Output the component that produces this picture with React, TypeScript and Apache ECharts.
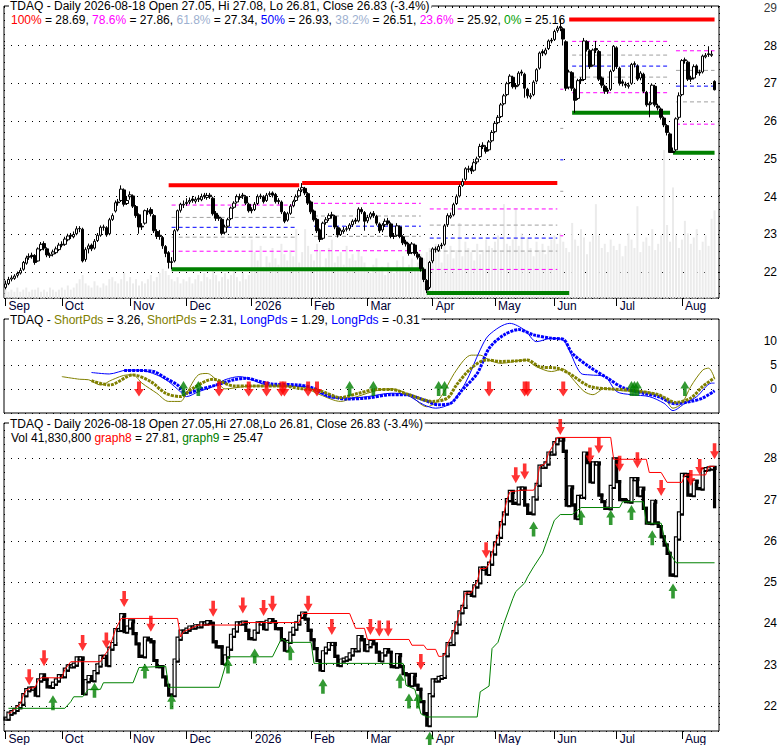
import React, { useEffect, useRef } from 'react';
import * as echarts from 'echarts';

const FONT = '"Liberation Sans", Arial, sans-serif';

const monthNames = ['Sep', 'Oct', 'Nov', 'Dec', '2026', 'Feb', 'Mar', 'Apr', 'May', 'Jun', 'Jul', 'Aug'];
const monthDays = [19, 23, 19, 22, 20, 19, 22, 21, 20, 21, 22, 12];

const topTicks = [22, 23, 24, 25, 26, 27, 28];
const topEdgeTick = 29;
const midTicks = [0, 5, 10];
const botTicks = [22, 23, 24, 25, 26, 27, 28];

const opens = [
  21.60,21.70,21.82,21.84,21.92,21.98,22.08,22.24,22.40,22.45,
  22.44,22.30,22.60,22.76,22.62,22.44,22.48,22.52,22.60,22.74,
  22.74,22.86,22.98,22.94,23.02,23.16,23.14,22.34,22.62,22.72,
  22.64,22.84,22.98,23.20,23.18,23.02,23.40,23.62,23.86,23.90,
  24.18,23.82,24.00,24.02,23.74,23.52,23.22,23.30,23.62,23.66,
  23.50,23.08,22.98,22.92,22.68,22.52,22.28,22.30,23.12,23.64,
  23.78,23.82,23.86,23.94,23.88,23.96,23.92,24.04,23.98,24.04,
  23.96,23.56,23.46,23.40,23.06,23.22,23.42,23.72,23.86,23.98,
  24.04,24.00,23.80,23.66,23.66,23.82,24.02,24.00,23.90,24.06,
  24.10,24.06,23.90,23.86,23.58,23.38,23.56,23.76,23.90,24.02,
  24.18,24.22,24.08,23.86,23.62,23.40,23.12,22.90,23.32,23.42,
  23.52,23.48,23.18,23.00,23.08,23.14,23.16,23.26,23.38,23.36,
  23.66,23.58,23.36,23.46,23.56,23.48,23.28,23.12,23.26,23.36,
  23.28,22.96,22.98,23.20,22.94,22.80,22.74,22.52,22.72,22.48,
  22.38,22.08,21.78,21.60,22.30,22.60,22.58,22.72,22.74,23.26,
  23.46,23.52,23.82,24.02,24.30,24.46,24.72,24.76,24.70,24.92,
  25.06,25.36,25.30,25.24,25.48,25.72,25.96,26.12,26.46,26.70,
  27.02,27.16,26.94,26.96,27.30,27.24,26.84,26.64,26.70,27.06,
  27.40,27.84,27.78,27.92,28.14,28.16,28.40,28.50,28.44,28.10,
  26.90,27.28,26.84,26.60,27.10,27.10,28.10,27.86,27.48,27.92,
  27.84,27.14,26.92,26.82,26.84,27.34,27.94,27.40,27.04,26.98,
  26.92,27.00,27.52,27.46,27.14,27.24,26.76,26.46,26.48,26.92,
  26.40,26.32,26.08,25.88,25.66,25.20,25.24,26.10,26.70,27.62,
  27.56,27.14,27.14,27.46,27.30,27.30,27.70,27.78,27.74,27.05,
];
const highs = [
  21.78,21.88,21.92,21.95,22.02,22.12,22.30,22.44,22.50,22.52,
  22.48,22.66,22.80,22.82,22.66,22.52,22.60,22.68,22.78,22.82,
  22.94,23.02,23.04,23.08,23.22,23.22,23.18,22.66,22.76,22.76,
  22.88,23.04,23.24,23.26,23.22,23.44,23.56,23.90,23.94,24.30,
  24.22,24.02,24.14,24.06,23.78,23.56,23.30,23.66,23.70,23.72,
  23.54,23.14,23.12,22.96,22.72,22.56,22.40,23.14,23.66,23.84,
  23.90,23.96,23.98,24.02,24.00,24.04,24.08,24.10,24.10,24.10,
  24.00,23.62,23.52,23.44,23.26,23.44,23.74,23.88,24.06,24.08,
  24.10,24.04,23.84,23.72,23.86,24.06,24.08,24.04,24.10,24.14,
  24.14,24.10,23.96,23.90,23.62,23.60,23.80,23.92,24.06,24.22,
  24.36,24.26,24.12,23.90,23.66,23.44,23.16,23.34,23.46,23.56,
  23.60,23.52,23.22,23.16,23.20,23.22,23.30,23.40,23.44,23.72,
  23.72,23.62,23.52,23.60,23.62,23.52,23.32,23.30,23.42,23.44,
  23.32,23.04,23.30,23.24,22.98,22.86,22.78,22.80,22.76,22.54,
  22.42,22.12,21.82,22.30,22.66,22.68,22.74,22.78,23.28,23.56,
  23.58,23.84,24.06,24.32,24.48,24.78,24.82,24.82,24.96,25.06,
  25.40,25.44,25.36,25.50,25.76,25.98,26.16,26.48,26.72,27.04,
  27.24,27.20,27.00,27.32,27.36,27.28,26.88,26.74,27.08,27.40,
  27.84,27.90,27.94,28.16,28.20,28.42,28.52,28.69,28.48,28.14,
  27.36,27.32,26.88,27.12,27.16,28.20,28.14,27.90,27.92,28.12,
  27.88,27.18,26.96,26.88,27.36,28.00,27.98,27.44,27.10,27.04,
  27.02,27.54,27.58,27.50,27.32,27.28,26.80,26.52,27.00,26.96,
  26.46,26.36,26.12,25.92,25.70,25.30,26.10,26.76,27.64,27.68,
  27.60,27.20,27.50,27.50,27.36,27.76,27.80,27.98,27.86,27.08,
];
const lows = [
  21.55,21.66,21.76,21.80,21.86,21.94,22.04,22.20,22.33,22.36,
  22.20,22.28,22.56,22.58,22.40,22.38,22.42,22.48,22.56,22.66,
  22.70,22.82,22.88,22.90,22.98,23.06,22.26,22.28,22.50,22.56,
  22.60,22.80,22.94,23.10,22.94,22.98,23.36,23.58,23.76,23.86,
  23.74,23.78,23.92,23.70,23.44,23.02,23.12,23.26,23.52,23.48,
  23.04,22.88,22.86,22.62,22.40,22.10,22.08,22.26,23.08,23.58,
  23.70,23.76,23.80,23.84,23.82,23.86,23.88,23.94,23.92,23.94,
  23.50,23.36,23.36,22.98,23.00,23.18,23.38,23.68,23.82,23.92,
  23.94,23.78,23.58,23.56,23.62,23.78,23.94,23.82,23.86,24.00,
  23.98,23.82,23.80,23.54,23.30,23.34,23.52,23.72,23.86,23.98,
  24.12,24.04,23.78,23.54,23.34,23.04,22.80,22.86,23.26,23.36,
  23.42,23.14,22.92,22.96,23.02,23.08,23.10,23.20,23.28,23.32,
  23.54,23.10,23.30,23.40,23.44,23.24,23.04,23.06,23.20,23.24,
  22.90,22.88,22.94,22.90,22.72,22.68,22.44,22.48,22.44,22.34,
  22.02,21.74,21.45,21.56,22.24,22.52,22.54,22.62,22.70,23.20,
  23.42,23.48,23.78,23.98,24.26,24.42,24.64,24.60,24.66,24.86,
  25.02,25.26,25.14,25.20,25.44,25.68,25.92,26.08,26.42,26.66,
  26.98,26.86,26.84,26.92,27.20,26.62,26.60,26.58,26.66,27.02,
  27.36,27.72,27.74,27.88,28.06,28.12,28.34,28.38,28.00,26.80,
  26.84,26.80,26.22,26.56,26.98,27.06,27.84,27.38,27.44,27.80,
  27.06,26.88,26.72,26.72,26.80,27.30,27.38,26.94,26.92,26.88,
  26.86,26.96,27.42,27.06,27.08,26.74,26.38,26.10,26.44,26.38,
  26.28,26.04,25.84,25.62,25.16,25.16,25.20,26.04,26.66,27.52,
  27.06,27.04,27.10,27.22,27.20,27.26,27.66,27.70,27.70,26.81,
];
const closes = [
  21.69,21.81,21.85,21.90,21.97,22.05,22.26,22.38,22.42,22.42,
  22.26,22.62,22.74,22.64,22.46,22.46,22.54,22.62,22.72,22.72,
  22.88,22.96,22.96,23.00,23.15,23.15,22.30,22.60,22.70,22.62,
  22.82,22.98,23.19,23.19,22.99,23.39,23.50,23.84,23.84,24.20,
  23.80,23.90,24.05,23.75,23.50,23.20,23.20,23.63,23.60,23.55,
  23.10,22.95,22.95,22.70,22.50,22.26,22.26,23.10,23.63,23.80,
  23.80,23.85,23.90,23.90,23.93,23.93,24.00,24.00,24.03,24.00,
  23.55,23.43,23.43,23.03,23.20,23.39,23.70,23.83,24.00,24.00,
  24.02,23.83,23.63,23.63,23.80,24.00,24.00,23.87,24.04,24.08,
  24.04,23.87,23.87,23.60,23.35,23.55,23.75,23.87,24.00,24.16,
  24.24,24.10,23.83,23.60,23.39,23.10,22.87,23.30,23.39,23.50,
  23.50,23.20,22.99,23.10,23.12,23.15,23.25,23.35,23.35,23.67,
  23.60,23.35,23.45,23.55,23.50,23.30,23.10,23.25,23.35,23.30,
  22.95,22.95,23.23,22.95,22.78,22.75,22.50,22.75,22.50,22.40,
  22.10,21.81,21.53,22.26,22.62,22.62,22.68,22.70,23.23,23.50,
  23.50,23.79,24.00,24.27,24.40,24.74,24.74,24.68,24.90,25.00,
  25.33,25.33,25.20,25.45,25.70,25.94,26.10,26.43,26.67,26.99,
  27.19,26.91,26.91,27.27,27.27,26.87,26.67,26.67,27.03,27.36,
  27.80,27.80,27.88,28.12,28.12,28.37,28.46,28.46,28.17,26.87,
  27.30,26.87,26.55,27.07,27.07,28.12,27.90,27.44,27.88,27.88,
  27.11,26.95,26.79,26.79,27.31,27.98,27.44,27.00,27.00,26.95,
  26.95,27.50,27.50,27.11,27.27,26.79,26.43,26.43,26.95,26.43,
  26.35,26.10,25.90,25.70,25.17,25.17,26.06,26.67,27.60,27.60,
  27.11,27.11,27.44,27.27,27.27,27.72,27.74,27.76,27.77,26.83,
];
// volume in millions of shares
const volumes = [
  6,3,4,3,5,3,4,5,3,4,
  4,5,3,4,3,5,4,3,4,5,
  4,6,4,5,7,9,11,7,6,5,
  8,6,5,7,6,9,10,8,7,9,
  12,8,10,7,9,6,8,7,9,11,
  8,10,12,14,13,11,9,8,10,7,
  9,8,10,7,9,11,8,12,10,9,
  13,11,8,10,12,9,11,14,10,8,
  12,9,11,28,22,18,25,15,20,17,
  24,19,16,26,21,18,23,20,33,17,
  22,33,25,21,18,26,23,15,19,24,
  28,17,20,22,16,25,19,21,18,23,
  20,17,14,12,16,19,13,15,11,17,
  14,12,18,15,20,13,16,19,14,17,
  21,19,22,24,18,26,22,17,29,21,
  25,19,23,36,20,27,24,22,18,26,
  21,23,28,25,24,27,30,22,45,26,
  25,28,43,25,31,22,29,24,20,27,
  23,26,21,25,28,30,26,31,27,24,
  22,36,28,25,33,29,21,27,30,45,
  30,24,26,22,28,25,23,26,20,25,
  31,28,24,44,22,27,29,25,33,23,
  26,30,71,35,27,53,30,24,28,37,
  31,26,29,33,23,27,30,25,38,42,
];

// Fibonacci retracement spans: [fromIndex, toIndex, value]
const fibHighs = [
  [55, 99, 24.3],
  [100, 186, 24.36],
  [190, 239, 28.69],
];
const fibLows = [
  [56, 141, 22.08],
  [142, 190, 21.45],
  [191, 224, 26.22],
  [225, 239, 25.16],
];
// [fromIndex, toIndex, high, low]
const fibRanges = [
  [56, 98, 24.3, 22.08],
  [104, 140, 24.36, 22.08],
  [143, 186, 24.36, 21.45],
  [187, 188, 28.5, 21.45],
  [191, 223, 28.69, 26.22],
  [226, 239, 28.69, 25.16],
];
const fibRatios = [0.765, 0.618, 0.5, 0.382, 0.215];

// middle panel indicator lines: [dayIndex, value]
const shortThin = [[19,2.55],[25,2.0],[28,1.9],[32,0.8],[36,1.9],[41,2.9],[43,2.9],[46,1.2],[51,-0.9],[55,-2.6],[59,-2.6],[61,-0.9],[65,2.9],[68,3.2],[71,1.9],[74,0],[81,0.5],[88,0.6],[95,0.5],[99,0.5],[106,-1.2],[113,-2.6],[117,-1.9],[122,-0.9],[126,-0.2],[130,0],[136,-1.2],[142,-3.7],[146,-2.3],[152,3.9],[157,7.0],[160,7.0],[163,6.0],[167,5.3],[175,6.0],[179,4.6],[184,3.6],[188,4.1],[191,2.2],[195,-0.5],[198,-1.2],[202,0.1],[208,-0.4],[215,-0.5],[222,-1.9],[225,-4.0],[228,-3.0],[231,0.5],[235,3.9],[237,4.3],[239,2.2]];
const shortThick = [[29,1.7],[35,0.8],[43,2.9],[49,1.5],[54,-0.9],[59,-1.6],[63,0.1],[70,2.0],[77,0.6],[83,0.6],[94,0.6],[99,0.1],[106,-0.4],[113,-1.8],[119,-0.9],[124,-0.2],[130,-0.1],[136,-1.2],[144,-2.6],[149,-1.9],[152,0.8],[157,4.3],[162,6.0],[167,5.7],[172,5.8],[176,6.0],[180,4.6],[186,4.3],[190,3.2],[197,0.5],[204,0],[211,-0.3],[220,-1.2],[226,-2.8],[231,-1.9],[235,0.5],[239,2.3]];
const longThin = [[29,3.4],[35,3.1],[41,3.9],[45,3.9],[51,2.9],[55,1.5],[59,-0.6],[61,-1.6],[65,-0.6],[70,0.5],[74,1.9],[79,2.55],[83,1.9],[88,0.8],[95,0.6],[101,0.5],[106,-0.9],[110,-1.9],[116,-1.9],[122,-1.6],[130,-0.9],[135,-1.2],[141,-3.3],[145,-4.0],[150,-3.0],[155,1.2],[160,8.1],[163,11.2],[170,13.6],[175,12.2],[179,9.8],[184,10.5],[188,10.1],[194,3.2],[197,2.9],[202,2.55],[206,-0.55],[211,-1.2],[217,-1.6],[222,-3.0],[225,-4.5],[229,-3.0],[233,-1.6],[238,1.2],[239,1.2]];
const longThick = [[40,3.8],[45,3.8],[50,3.6],[54,2.2],[58,0.8],[61,-0.9],[65,-0.2],[71,0.8],[77,1.9],[81,2.2],[86,1.5],[90,1.0],[99,0.8],[104,0.1],[108,-1.2],[115,-2.1],[122,-1.9],[130,-1.2],[135,-1.2],[141,-2.3],[146,-3.3],[150,-3.0],[154,-0.2],[159,3.2],[163,8.4],[168,11.2],[173,12.3],[178,11.2],[184,10.5],[188,10.3],[191,7.4],[197,4.5],[203,2.2],[208,0.3],[215,-0.9],[220,-1.6],[226,-3.1],[231,-2.6],[235,-1.9],[239,-0.4]];

// middle panel signal days
const midDownDays = [45, 72, 82, 88, 93, 94, 102, 105, 163, 175, 176, 188];
const midUpDays = [60, 65, 116, 124, 146, 148, 211, 212, 213, 229];
const midDownTip = -1.6;
const midUpTip = 1.65;

// bottom panel stops: [dayIndex, value]
const graph8 = [[1,21.81],[2,21.85],[5,22.05],[6,22.26],[7,22.38],[8,22.42],[10,22.45],[11,22.62],[12,22.68],[19,22.68],[20,22.88],[22,23.07],[32,23.07],[33,23.19],[35,23.39],[37,23.84],[39,24.12],[58,24.12],[59,23.67],[60,23.8],[65,23.96],[79,23.96],[80,24.02],[99,24.02],[100,24.24],[116,24.24],[118,23.88],[121,23.88],[122,23.61],[136,23.61],[137,23.47],[141,23.47],[142,23.37],[145,23.37],[146,23.2],[147,23.2],[148,23.23],[149,23.5],[151,23.79],[152,24.0],[153,24.27],[154,24.4],[155,24.74],[157,24.74],[158,24.9],[159,25.0],[160,25.33],[162,25.33],[163,25.45],[164,25.7],[165,25.94],[166,26.1],[167,26.43],[168,26.67],[169,26.99],[170,27.19],[174,27.23],[178,27.23],[179,27.36],[180,27.8],[182,27.88],[183,28.12],[185,28.37],[186,28.51],[204,28.51],[205,27.98],[216,27.98],[217,27.66],[221,27.66],[223,27.42],[228,27.42],[229,27.6],[236,27.6],[237,27.81],[239,27.81]];
const graph9 = [[1,21.94],[20,21.94],[22,22.1],[23,22.22],[26,22.22],[28,22.4],[32,22.4],[33,22.56],[43,22.56],[45,22.93],[54,22.96],[55,22.45],[72,22.45],[75,23.19],[90,23.19],[93,23.63],[95,23.54],[103,23.54],[104,23.03],[134,23.03],[135,22.5],[138,22.4],[140,21.81],[142,21.73],[159,21.73],[160,22.34],[163,22.48],[164,23.39],[166,23.54],[168,24.0],[171,24.6],[172,24.77],[175,24.98],[176,25.13],[178,25.37],[181,25.7],[183,26.1],[185,26.5],[187,26.64],[191,26.64],[194,26.81],[207,26.81],[208,26.95],[215,26.95],[216,26.43],[221,26.43],[222,26.1],[223,25.9],[224,25.7],[226,25.47],[239,25.47]];
const botDown = [[8,22.5],[13,22.96],[26,23.33],[34,23.39],[40,24.4],[49,23.8],[70,24.16],[80,24.24],[87,24.18],[90,24.28],[102,24.28],[110,23.72],[123,23.72],[126,23.68],[129,23.68],[140,22.87],[162,25.58],[172,27.4],[175,27.49],[187,28.57],[197,27.88],[200,28.12],[207,27.68],[213,27.76],[221,27.09],[231,27.33],[234,27.6],[239,27.98]];
const botUp = [[16,22.26],[30,22.56],[47,23.03],[56,22.28],[75,23.15],[84,23.39],[96,23.47],[107,22.66],[133,22.79],[136,22.3],[139,22.3],[143,21.37],[178,26.47],[194,26.75],[204,26.75],[211,26.87],[218,26.26],[225,24.97]];

const DOWN_ARROW = 'path://M3,0L7,0L7,8L10,8L5,16L0,8L3,8Z';
const UP_ARROW = 'path://M5,0L10,8L7,8L7,16L3,16L3,8L0,8Z';

function buildOption() {
  const categories: string[] = [];
  const monthStart = new Set<number>();
  monthNames.forEach((m, k) => {
    monthStart.add(categories.length);
    for (let d = 1; d <= monthDays[k]; d++) categories.push(m + ' ' + d);
  });
  const janIndex = categories.indexOf('2026 1');
  const spareIndex = categories.length;
  categories.push(' ');
  const isStart = (i: number) => monthStart.has(i);

  const dotted = { type: [1, 6] as any, color: '#000', width: 1 };

  const mkX = (gi: number, labels: boolean) => ({
    type: 'category',
    gridIndex: gi,
    data: categories,
    boundaryGap: true,
    axisLine: { show: false },
    axisTick: { show: labels, interval: isStart, length: 8, alignWithLabel: true, lineStyle: { color: '#000', width: 1 } },
    axisLabel: {
      show: labels,
      interval: isStart,
      formatter: (v: string) => v.split(' ')[0],
      align: 'left',
      padding: [0, 0, 0, 3],
      margin: 2,
      color: '#000033',
      fontSize: 12,
      fontFamily: FONT,
    },
    splitLine: { show: gi !== 1, interval: (i: number) => i === janIndex, lineStyle: dotted },
  });

  const yLabel = (values: number[]) => ({
    customValues: values,
    margin: 58,
    align: 'right',
    formatter: (v: number) => String(Math.round(v)),
    color: '#000',
    fontSize: 12,
    fontFamily: FONT,
    showMinLabel: true,
    showMaxLabel: true,
    hideOverlap: false,
  });

  const series: any[] = [];

  // volume
  series.push({
    type: 'bar', xAxisIndex: 0, yAxisIndex: 1, data: volumes, barWidth: 2, silent: true, z: 1,
    itemStyle: { color: '#ebebeb' },
  });

  // fib lines
  const seg = (a: number, b: number, v: number, color: string, width: number, dashed: boolean) => ({
    type: 'line', xAxisIndex: 0, yAxisIndex: 0, z: 2, silent: true, symbol: 'none',
    data: [[a, v], [b, v]],
    lineStyle: { color, width, type: dashed ? [4, 3] : 'solid' },
  });
  const fibColors = ['#ff00ff', '#a0a0a0', '#0000ff', '#a0a0a0', '#ff00ff'];
  fibRanges.forEach(([a, b, hi, lo]) => {
    fibRatios.forEach((r, k) => series.push(seg(a, b, lo + (hi - lo) * r, fibColors[k], 1, true)));
  });
  fibHighs.forEach(([a, b, v]) => series.push(seg(a, b, v, '#ff0000', 4, false)));
  fibLows.forEach(([a, b, v]) => series.push(seg(a, b, v, '#008000', 4, false)));

  // candles
  series.push({
    type: 'candlestick', xAxisIndex: 0, yAxisIndex: 0, z: 3, barWidth: 3,
    data: closes.map((c, i) => [opens[i], c, lows[i], highs[i]]),
    itemStyle: { color: '#ffffff', color0: '#000000', borderColor: '#000000', borderColor0: '#000000', borderWidth: 1 },
  });

  // top-edge price label (placed through the price scale)
  series.push({
    type: 'scatter', xAxisIndex: 0, yAxisIndex: 0, z: 10, silent: true, clip: false,
    symbol: 'circle', symbolSize: 1,
    itemStyle: { color: 'rgba(0,0,0,0)' },
    data: [[spareIndex, topEdgeTick]],
    label: {
      show: true, position: [60, 0.5], align: 'right', verticalAlign: 'middle',
      formatter: String(topEdgeTick), color: '#000', fontSize: 12, fontFamily: FONT,
    },
    labelLayout: { hideOverlap: false },
  });

  // middle panel
  const mline = (data: number[][], color: string, width: number, z: number, dash: any) => ({
    type: 'line', xAxisIndex: 1, yAxisIndex: 2, z, silent: true, symbol: 'none', smooth: 0.3,
    data, lineStyle: { color, width, type: dash },
  });
  series.push(mline(shortThin, '#808000', 1, 3, 'solid'));
  series.push(mline(longThin, '#0000ff', 1, 3, 'solid'));
  series.push(mline(longThick, '#0000ff', 3, 4, [3, 1]));
  series.push(mline(shortThick, '#808000', 3, 5, [3, 1]));
  series.push({
    type: 'scatter', xAxisIndex: 1, yAxisIndex: 2, z: 6, silent: true, clip: false,
    data: midDownDays.map((d) => [d, midDownTip]),
    symbol: DOWN_ARROW, symbolSize: [10, 15], symbolOffset: [0, '-50%'],
    itemStyle: { color: '#ff0000' },
  });
  series.push({
    type: 'scatter', xAxisIndex: 1, yAxisIndex: 2, z: 6, silent: true, clip: false,
    data: midUpDays.map((d) => [d, midUpTip]),
    symbol: UP_ARROW, symbolSize: [9, 15], symbolOffset: [0, '50%'],
    itemStyle: { color: '#008000' },
  });

  // bottom panel
  const dirs: number[] = [];
  closes.forEach((c, i) => {
    if (i === 0) dirs.push(1);
    else dirs.push(c > closes[i - 1] ? 1 : c < closes[i - 1] ? -1 : dirs[i - 1]);
  });
  const last = closes.length - 1;
  series.push({
    type: 'custom', xAxisIndex: 2, yAxisIndex: 3, z: 4, silent: true,
    data: closes.map((c, i) => [i, c, i > 0 ? closes[i - 1] : c, dirs[i]]),
    encode: { x: 0, y: 1 },
    renderItem: (params: any, api: any) => {
      const i = api.value(0);
      const c = api.value(1);
      const p = api.value(2);
      const up = api.value(3) > 0;
      const a = api.coord([i, c]);
      const b = api.coord([i, p]);
      const w = api.size([1, 0])[0];
      const pts = i === last ? [[a[0], b[1]], [a[0], a[1]]] : [[a[0], b[1]], [a[0], a[1]], [a[0] + w, a[1]]];
      const children: any[] = [
        { type: 'polyline', shape: { points: pts }, style: { stroke: '#000', lineWidth: up ? 4.2 : 3.2, fill: 'none', lineJoin: 'miter', lineCap: 'square' } },
      ];
      if (up) {
        children.push({ type: 'polyline', shape: { points: pts }, style: { stroke: '#fff', lineWidth: 1.8, fill: 'none', lineJoin: 'miter', lineCap: 'butt' } });
      }
      return { type: 'group', children };
    },
  });
  series.push({
    type: 'line', xAxisIndex: 2, yAxisIndex: 3, z: 5, silent: true, symbol: 'none',
    data: graph8, lineStyle: { color: '#ff0000', width: 1 },
  });
  series.push({
    type: 'line', xAxisIndex: 2, yAxisIndex: 3, z: 5, silent: true, symbol: 'none',
    data: graph9, lineStyle: { color: '#008000', width: 1 },
  });
  series.push({
    type: 'scatter', xAxisIndex: 2, yAxisIndex: 3, z: 6, silent: true, clip: false,
    data: botDown, symbol: DOWN_ARROW, symbolSize: [9, 16], symbolOffset: [0, '-50%'],
    itemStyle: { color: '#ff0000' },
  });
  series.push({
    type: 'scatter', xAxisIndex: 2, yAxisIndex: 3, z: 6, silent: true, clip: false,
    data: botUp, symbol: UP_ARROW, symbolSize: [9, 15], symbolOffset: [0, '50%'],
    itemStyle: { color: '#008000' },
  });

  const rich = (extra: any) => {
    const out: any = {};
    Object.keys(extra).forEach((k) => (out[k] = { fill: extra[k], fontSize: 12, fontFamily: FONT }));
    return out;
  };
  const txt = (x: number, y: number, text: string, colors: any, bg: boolean) => ({
    type: 'text', x, y, z: 100, silent: true,
    style: {
      text, fontSize: 12, fontFamily: FONT, fill: '#000',
      rich: rich(colors),
      backgroundColor: bg ? '#fff' : undefined,
      padding: bg ? [0, 2, 0, 1] : undefined,
    },
  });

  const graphic = [
    txt(9, 0, 'TDAQ - Daily 2026-08-18 Open 27.05, Hi 27.08, Lo 26.81, Close 26.83 (-3.4%)', {}, true),
    txt(11, 14, '{r|100%} = 28.69, {m|78.6%} = 27.86, {s|61.8%} = 27.34, {b|50%} = 26.93, {s|38.2%} = 26.51, {m|23.6%} = 25.92, {g|0%} = 25.16',
      { r: '#ff0000', m: '#ff00ff', s: '#9db0d0', b: '#0000ff', g: '#00a000' }, false),
    txt(9, 314, 'TDAQ - {o|ShortPds} = 3.26, {o|ShortPds} = 2.31, {b|LongPds} = 1.29, {b|LongPds} = -0.31',
      { o: '#808000', b: '#0000ff' }, true),
    txt(9, 418, 'TDAQ - Daily 2026-08-18 Open 27.05,Hi 27.08,Lo 26.81, Close 26.83 (-3.4%)', {}, true),
    txt(11, 432, 'Vol 41,830,800 {r|graph8} = 27.81, {g|graph9} = 25.47', { r: '#ff0000', g: '#008000' }, false),
  ];

  const gridBase = { left: 4, width: 715, show: true, borderColor: '#000', borderWidth: 1, backgroundColor: 'transparent', outerBoundsMode: 'none' };

  return {
    animation: false,
    backgroundColor: '#fff',
    grid: [
      { ...gridBase, top: 6, height: 292 },
      { ...gridBase, top: 319, height: 94 },
      { ...gridBase, top: 423, height: 308 },
    ],
    xAxis: [mkX(0, true), mkX(1, false), mkX(2, true)],
    yAxis: [
      {
        type: 'value', gridIndex: 0, position: 'right', min: 21.32, max: 29.045, minInterval: 1, maxInterval: 1, splitNumber: 8,
        axisLine: { show: false }, axisTick: { show: false }, axisLabel: yLabel(topTicks), splitLine: { lineStyle: dotted },
      },
      { type: 'value', gridIndex: 0, position: 'left', min: 0, max: 140, show: false, splitLine: { show: false } },
      {
        type: 'value', gridIndex: 1, position: 'right', min: -5, max: 14.5, interval: 5,
        axisLine: { show: false }, axisTick: { show: false },
        axisLabel: yLabel(midTicks),
        splitLine: { lineStyle: dotted },
      },
      {
        type: 'value', gridIndex: 2, position: 'right', min: 21.39, max: 28.86, minInterval: 1, maxInterval: 1, splitNumber: 8,
        axisLine: { show: false }, axisTick: { show: false }, axisLabel: yLabel(botTicks), splitLine: { lineStyle: dotted },
      },
    ],
    series,
    graphic,
  };
}

export default function App() {
  const ref = useRef<HTMLDivElement>(null);
  useEffect(() => {
    const chart = echarts.init(ref.current as HTMLDivElement, null, { renderer: 'svg' });
    chart.setOption(buildOption() as any);
    return () => chart.dispose();
  }, []);
  return <div ref={ref} style={{ position: 'fixed', left: 0, top: 0, width: 780, height: 745, background: '#fff' }} />;
}
